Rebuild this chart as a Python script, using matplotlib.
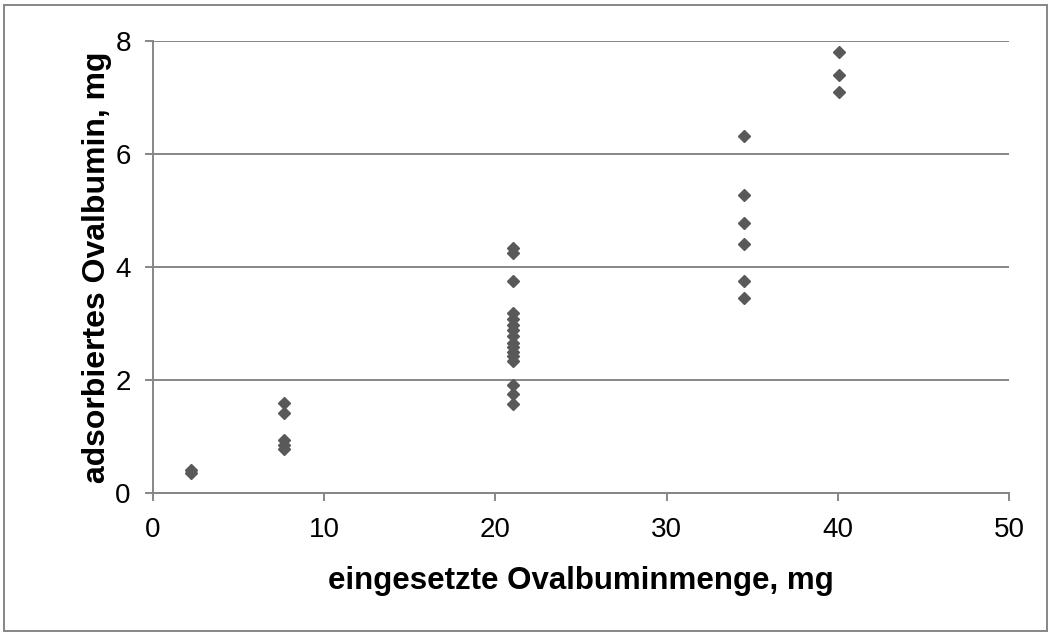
import numpy as np
from matplotlib import pyplot as plt
from matplotlib.patches import Rectangle

plt.rcParams['font.family'] = ['Liberation Sans', 'DejaVu Sans']

# eingesetzte Menge (mg) and adsorbierte Menge (mg)
x_2 = [2.2, 2.2]
y_2 = [0.35, 0.40]
x_8 = [7.65, 7.65, 7.65, 7.65, 7.65]
y_8 = [1.59, 1.41, 0.93, 0.85, 0.78]
x_21 = [21.05] * 16
y_21 = [4.33, 4.25, 3.76, 3.18, 3.08, 2.98, 2.88, 2.78, 2.65, 2.58, 2.50, 2.42, 2.33,
        1.92, 1.76, 1.57]
x_34 = [34.55] * 6
y_34 = [6.32, 5.27, 4.77, 4.41, 3.75, 3.45]
x_40 = [40.05] * 3
y_40 = [7.81, 7.39, 7.10]

xs = x_2 + x_8 + x_21 + x_34 + x_40
ys = y_2 + y_8 + y_21 + y_34 + y_40

xticks = [0, 10, 20, 30, 40, 50]
yticks = [0, 2, 4, 6, 8]

grey = '#868686'
fig = plt.figure(figsize=(10.52, 6.34), dpi=100)
ax = fig.add_axes([153/1052, (634-493)/634, (1009-153)/1052, (493-41)/634])

ax.plot(xs, ys, linestyle='none', marker='D', markersize=5.8, color='#595959')

ax.set_xlim(0, 50)
ax.set_ylim(0, 8)
ax.set_xticks(xticks)
ax.set_yticks(yticks)
ax.yaxis.grid(True, color=grey, linewidth=1.4)
ax.set_axisbelow(True)
for s in ['top', 'right']:
    ax.spines[s].set_visible(False)
for s in ['left', 'bottom']:
    ax.spines[s].set_color(grey)
    ax.spines[s].set_linewidth(1.4)
ax.tick_params(axis='both', color=grey, width=1.4, length=6, labelsize=20,
               direction='out')
ax.tick_params(axis='x', pad=11)
ax.tick_params(axis='y', pad=10)

ax.set_xlabel('eingesetzte Ovalbuminmenge, mg', fontsize=22.5, fontweight='bold',
              labelpad=17)
ax.set_ylabel('adsorbiertes Ovalbumin, mg', fontsize=23, fontweight='bold',
              labelpad=2)

fig.patches.append(Rectangle((4/1052, 3/634), 1043/1052, 626/634,
                             transform=fig.transFigure, fill=False,
                             edgecolor=grey, linewidth=1.4))

fig.savefig('out.png', dpi=100)
